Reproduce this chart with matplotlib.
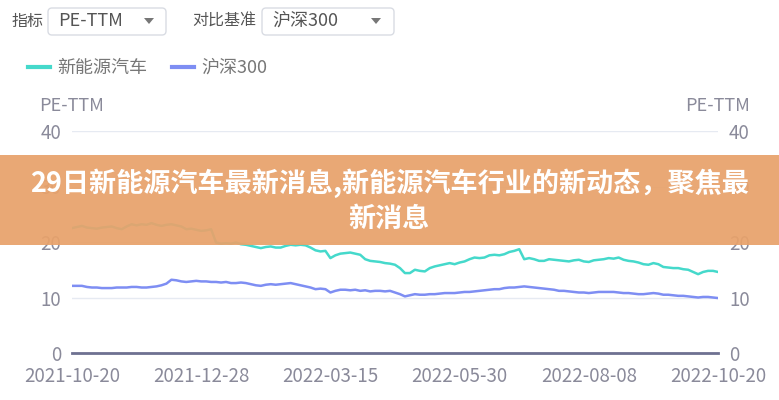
import matplotlib
matplotlib.use("Agg")
import matplotlib.pyplot as plt
from matplotlib.patches import FancyBboxPatch, Rectangle, Polygon
import numpy as np

plt.rcParams['font.family'] = ['Noto Sans CJK SC', 'DejaVu Sans']

# ---------------- data ----------------
tick_labels = ["2021-10-20", "2021-12-28", "2022-03-15", "2022-05-30", "2022-08-08", "2022-10-20"]
series_names = ["新能源汽车", "沪深300"]

nev_pe = [22.5, 22.7, 22.9, 22.6, 22.5, 22.4, 22.6, 22.7, 22.8, 22.5,
          22.3, 22.8, 23.2, 23.0, 23.2, 23.1, 23.4, 23.1, 22.9, 23.1,
          23.2, 23.0, 22.8, 22.3, 22.4, 22.2, 22.0, 22.1, 22.3, 19.9,
          19.7, 19.8, 19.7, 19.9, 19.6, 19.5, 19.3, 19.1, 18.9, 19.1,
          19.2, 19.0, 19.0, 19.3, 19.5, 19.4, 19.5, 19.4, 19.0, 18.5,
          18.3, 18.4, 17.1, 17.6, 17.9, 18.0, 18.1, 17.9, 17.7, 16.9,
          16.6, 16.5, 16.4, 16.2, 16.1, 15.9, 15.3, 14.4, 14.4, 15.0,
          14.8, 14.7, 15.3, 15.6, 15.8, 16.0, 16.2, 16.0, 16.3, 16.5,
          16.9, 17.2, 17.1, 17.2, 17.6, 17.7, 17.6, 17.8, 18.2, 18.4,
          18.7, 16.9, 17.1, 16.9, 16.6, 16.6, 16.9, 16.8, 16.7, 16.6,
          16.5, 16.7, 16.8, 16.5, 16.4, 16.7, 16.8, 16.9, 17.1, 17.0,
          17.2, 16.8, 16.6, 16.5, 16.3, 16.0, 15.9, 16.2, 16.0, 15.5,
          15.4, 15.3, 15.3, 15.1, 15.0, 14.6, 14.2, 14.6, 14.8, 14.8,
          14.6]

hs300_pe = [12.1, 12.1, 12.1, 11.9, 11.8, 11.8, 11.7, 11.7, 11.7, 11.8,
            11.8, 11.8, 11.9, 11.9, 11.8, 11.8, 11.9, 12.0, 12.2, 12.5,
            13.2, 13.1, 12.9, 12.8, 12.9, 13.0, 12.9, 12.9, 12.8, 12.8,
            12.7, 12.8, 12.6, 12.6, 12.7, 12.6, 12.4, 12.2, 12.1, 12.3,
            12.4, 12.3, 12.4, 12.5, 12.6, 12.4, 12.2, 12.0, 11.8, 11.5,
            11.6, 11.5, 10.9, 11.2, 11.4, 11.4, 11.3, 11.4, 11.2, 11.3,
            11.1, 11.2, 11.2, 11.1, 11.2, 10.9, 10.6, 10.2, 10.4, 10.6,
            10.5, 10.5, 10.6, 10.6, 10.7, 10.8, 10.8, 10.8, 10.9, 11.0,
            11.0, 11.1, 11.2, 11.3, 11.4, 11.5, 11.5, 11.7, 11.8, 11.8,
            11.9, 12.0, 11.9, 11.8, 11.7, 11.6, 11.5, 11.4, 11.2, 11.2,
            11.1, 11.0, 10.9, 10.9, 10.8, 10.9, 11.0, 11.0, 11.0, 11.0,
            10.9, 10.8, 10.8, 10.7, 10.6, 10.6, 10.7, 10.8, 10.7, 10.5,
            10.5, 10.4, 10.3, 10.3, 10.2, 10.1, 10.0, 10.1, 10.1, 10.0,
            9.9]

y_ticks = [0, 10, 20, 30, 40]
title = "29日新能源汽车最新消息,新能源汽车行业的新动态，聚焦最\n新消息"

# ---------------- figure ----------------
W, H = 779, 400
fig = plt.figure(figsize=(W / 100, H / 100), dpi=100)
fig.patch.set_facecolor("white")

def fx(px):
    return px / W

def fy(py):
    return 1 - py / H

x0, x1, ytop, ybot = 72, 718, 131, 353
ax = fig.add_axes([fx(x0), fy(ybot), fx(x1) - fx(x0), fy(ytop) - fy(ybot)])
ax.set_zorder(1)

x = np.arange(len(nev_pe))
c_nev = "#45D9CB"
c_hs = "#7E8EF3"
ln1, = ax.plot(x, nev_pe, color=c_nev, lw=1.8, label=series_names[0], zorder=3)
ln2, = ax.plot(np.arange(len(hs300_pe)), hs300_pe, color=c_hs, lw=1.8, label=series_names[1], zorder=3)

ax.set_xlim(0, len(nev_pe) - 1)
ax.set_ylim(0, 40)
n = len(nev_pe) - 1
tick_pos = [round(i * n / (len(tick_labels) - 1)) for i in range(len(tick_labels))]
ax.set_xticks(tick_pos)
ax.set_xticklabels(tick_labels)
ax.set_yticks(y_ticks)
ax.grid(axis="y", color="#E6EAF2", lw=1.0)
ax.set_axisbelow(True)
for s in ["top", "right", "left"]:
    ax.spines[s].set_visible(False)
ax.spines["bottom"].set_color("#6E7191")
ax.spines["bottom"].set_linewidth(2.0)
tick_color = "#8A8A9A"
ax.tick_params(axis="both", length=0, colors=tick_color, labelsize=13.5)
ax.tick_params(axis="x", pad=9)
ax.tick_params(axis="y", pad=8)

ax2 = ax.twinx()
ax2.set_ylim(0, 40)
ax2.set_yticks(y_ticks)
for s in ["top", "right", "left", "bottom"]:
    ax2.spines[s].set_visible(False)
ax2.tick_params(axis="y", length=0, colors=tick_color, labelsize=13.5, pad=8)

fig.text(fx(72), fy(106), "PE-TTM", ha="center", va="center", fontsize=13, color=tick_color)
fig.text(fx(718), fy(106), "PE-TTM", ha="center", va="center", fontsize=13, color=tick_color)

# legend
leg = fig.legend(handles=[ln1, ln2], loc="center left", bbox_to_anchor=(fx(28), fy(68)),
                 ncol=2, frameon=False, fontsize=13, handlelength=1.2,
                 columnspacing=1.4, handletextpad=0.4, borderpad=0, borderaxespad=0,
                 labelcolor="#777777")
for h in leg.legend_handles:
    h.set_linewidth(3)

# overlay (pixel coordinates)
ov = fig.add_axes([0, 0, 1, 1])
ov.set_zorder(5)
ov.set_xlim(0, W)
ov.set_ylim(H, 0)
ov.axis("off")
ov.patch.set_alpha(0)

# controls
ov.text(12, 21, "指标", ha="left", va="center", fontsize=11.5, color="#555555", zorder=3)
ov.add_patch(FancyBboxPatch((48, 8), 118, 27, boxstyle="round,pad=0,rounding_size=4",
                            fc="white", ec="#D9DCE3", lw=1, zorder=2))
ov.text(58, 21, "PE-TTM", ha="left", va="center", fontsize=13, color="#555555", zorder=3)
ov.add_patch(Polygon([[144, 18], [154, 18], [149, 24]], closed=True, fc="#777777", ec="none", zorder=3))

ov.text(192, 21, "对比基准", ha="left", va="center", fontsize=11.5, color="#555555", zorder=3)
ov.add_patch(FancyBboxPatch((262, 8), 132, 27, boxstyle="round,pad=0,rounding_size=4",
                            fc="white", ec="#D9DCE3", lw=1, zorder=2))
ov.text(272, 21, "沪深300", ha="left", va="center", fontsize=13, color="#555555", zorder=3)
ov.add_patch(Polygon([[371, 18], [381, 18], [376, 24]], closed=True, fc="#777777", ec="none", zorder=3))

# banner
ov.add_patch(Rectangle((0, 155), W, 90, fc="#E8A26B", ec="none", alpha=0.93, zorder=2))
ov.text(W / 2, 201, title, ha="center", va="center", fontsize=19.5, fontweight="bold",
        color="white", linespacing=1.3, zorder=3)

fig.savefig("out.png", dpi=100)
